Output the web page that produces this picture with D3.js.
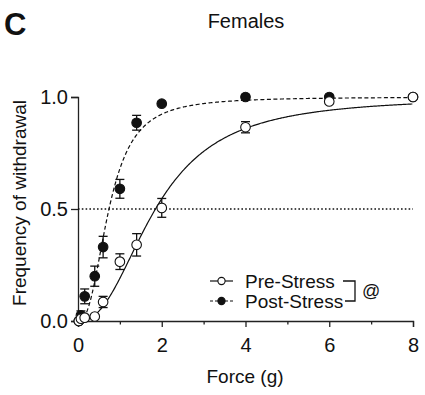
<!DOCTYPE html>
<html>
<head>
<meta charset="utf-8">
<script src="https://cdn.jsdelivr.net/npm/d3@7"></script>
<style>
  body { margin: 0; background: #fff; }
  svg text { font-family: "Liberation Sans", Arial, sans-serif; fill: #111; }
</style>
</head>
<body>
<script>
// von frey forces (g)
var forces = [0.02, 0.07, 0.16, 0.4, 0.6, 1.0, 1.4, 2.0, 4.0, 6.0, 8.0];
var preMean = [0.0, 0.01, 0.015, 0.02, 0.085, 0.265, 0.34, 0.505, 0.865, 0.98, 1.0];
var preErr  = [0, 0, 0.005, 0.005, 0.025, 0.035, 0.05, 0.042, 0.025, 0.005, 0];
var postMean = [0.0, 0.025, 0.11, 0.2, 0.33, 0.59, 0.885, 0.97, 1.0, 1.0, 1.0];
var postErr  = [0, 0.02, 0.033, 0.045, 0.048, 0.042, 0.033, 0, 0.005, 0.005, 0];
// fitted curves (log(agonist) vs response, variable slope)
var fitEC50 = [1.85, 0.74];
var fitHill = [2.35, 2.5];
var groups = ['Pre-Stress', 'Post-Stress'];
var xTicks = [0, 2, 4, 6, 8];
var xMinor = [1, 3, 5, 7];
var yTicks = [0, 0.5, 1.0];
var threshold = 0.5;

var W = 425, H = 395;
var svg = d3.select('body').append('svg').attr('width', W).attr('height', H);

var x = d3.scaleLinear().domain([0, 8]).range([78, 413]);
var y = d3.scaleLinear().domain([0, 1]).range([321, 97]);

// panel letter + title
svg.append('text').attr('x', 4).attr('y', 35).attr('font-size', 31).attr('font-weight', 'bold').text('C');
svg.append('text').attr('x', 246).attr('y', 28).attr('font-size', 20).attr('text-anchor', 'middle').text('Females');

// axes
var gx = svg.append('g').attr('transform', 'translate(0,' + y(0) + ')')
  .call(d3.axisBottom(x).tickValues(xTicks).tickSize(6).tickPadding(11).tickFormat(d3.format('d')));
var gxm = svg.append('g').attr('transform', 'translate(0,' + y(0) + ')')
  .call(d3.axisBottom(x).tickValues(xMinor).tickSize(3.5).tickFormat(''));
gxm.select('.domain').remove();
var gy = svg.append('g').attr('transform', 'translate(' + x(0) + ',0)')
  .call(d3.axisLeft(y).tickValues(yTicks).tickSize(7).tickPadding(3).tickFormat(d3.format('.1f')));
svg.selectAll('.domain').attr('stroke', '#222').attr('stroke-width', 1.3);
svg.selectAll('.tick line').attr('stroke', '#222').attr('stroke-width', 1.3);
svg.selectAll('.tick text').attr('font-size', 20).attr('fill', '#111')
  .style('font-family', '"Liberation Sans", Arial, sans-serif');
gx.selectAll('.tick text').attr('dy', '0.71em');

svg.append('text').attr('x', 245).attr('y', 383).attr('font-size', 19).attr('text-anchor', 'middle').text('Force (g)');
svg.append('text').attr('transform', 'translate(26,203) rotate(-90)').attr('font-size', 19)
  .attr('text-anchor', 'middle').text('Frequency of withdrawal');

// 50% threshold
svg.append('line').attr('x1', x(0)).attr('x2', x(8)).attr('y1', y(threshold)).attr('y2', y(threshold))
  .attr('stroke', '#111').attr('stroke-width', 1.6).attr('stroke-dasharray', '1.6,2.2');

// fitted curves
function hill(ec50, n) {
  return function(f) { return Math.pow(f, n) / (Math.pow(f, n) + Math.pow(ec50, n)); };
}
var curveX = d3.range(0.005, 8.0001, 0.02);
var line = d3.line().x(function(d){ return x(d[0]); }).y(function(d){ return y(d[1]); });
var dashes = [null, '4,2.5'];
[1, 0].forEach(function(g){
  var fn = hill(fitEC50[g], fitHill[g]);
  svg.append('path').datum(curveX.map(function(f){ return [f, fn(f)]; }))
    .attr('d', line).attr('fill', 'none').attr('stroke', '#111').attr('stroke-width', 1.2)
    .attr('stroke-dasharray', dashes[g]);
});

// points with sem bars
function drawGroup(means, errs, fill) {
  var data = forces.map(function(f, i){ return {f: f, m: means[i], e: errs[i]}; });
  var g = svg.append('g');
  var eb = g.selectAll('.eb').data(data.filter(function(d){ return d.e > 0; })).enter().append('g');
  eb.append('line').attr('x1', function(d){ return x(d.f); }).attr('x2', function(d){ return x(d.f); })
    .attr('y1', function(d){ return y(d.m - d.e); }).attr('y2', function(d){ return y(d.m + d.e); });
  eb.append('line').attr('x1', function(d){ return x(d.f) - 4.5; }).attr('x2', function(d){ return x(d.f) + 4.5; })
    .attr('y1', function(d){ return y(d.m + d.e); }).attr('y2', function(d){ return y(d.m + d.e); });
  eb.append('line').attr('x1', function(d){ return x(d.f) - 4.5; }).attr('x2', function(d){ return x(d.f) + 4.5; })
    .attr('y1', function(d){ return y(d.m - d.e); }).attr('y2', function(d){ return y(d.m - d.e); });
  eb.selectAll('line').attr('stroke', '#111').attr('stroke-width', 1.3);
  g.selectAll('circle').data(data).enter().append('circle')
    .attr('cx', function(d){ return x(d.f); }).attr('cy', function(d){ return y(d.m); })
    .attr('r', 4.8).attr('fill', fill).attr('stroke', '#111').attr('stroke-width', 1.1);
}
drawGroup(postMean, postErr, '#111');
drawGroup(preMean, preErr, '#fff');

// legend
var legY = [281, 301];
var legFill = ['#fff', '#111'];
var leg = svg.append('g');
groups.forEach(function(name, i){
  leg.append('line').attr('x1', 210).attr('x2', 233).attr('y1', legY[i]).attr('y2', legY[i])
    .attr('stroke', '#111').attr('stroke-width', 1.2).attr('stroke-dasharray', dashes[i] ? '3,2' : null);
  leg.append('circle').attr('cx', 221.5).attr('cy', legY[i]).attr('r', 3.6)
    .attr('fill', legFill[i]).attr('stroke', '#111').attr('stroke-width', 1.1);
  leg.append('text').attr('x', 245).attr('y', legY[i] + 6.5).attr('font-size', 19).text(name);
});
leg.append('path').attr('d', 'M343,' + legY[0] + 'H355V' + legY[1] + 'H345')
  .attr('fill', 'none').attr('stroke', '#111').attr('stroke-width', 1.3);
leg.append('text').attr('x', 362).attr('y', 297).attr('font-size', 18).text('@');
</script>
</body>
</html>
